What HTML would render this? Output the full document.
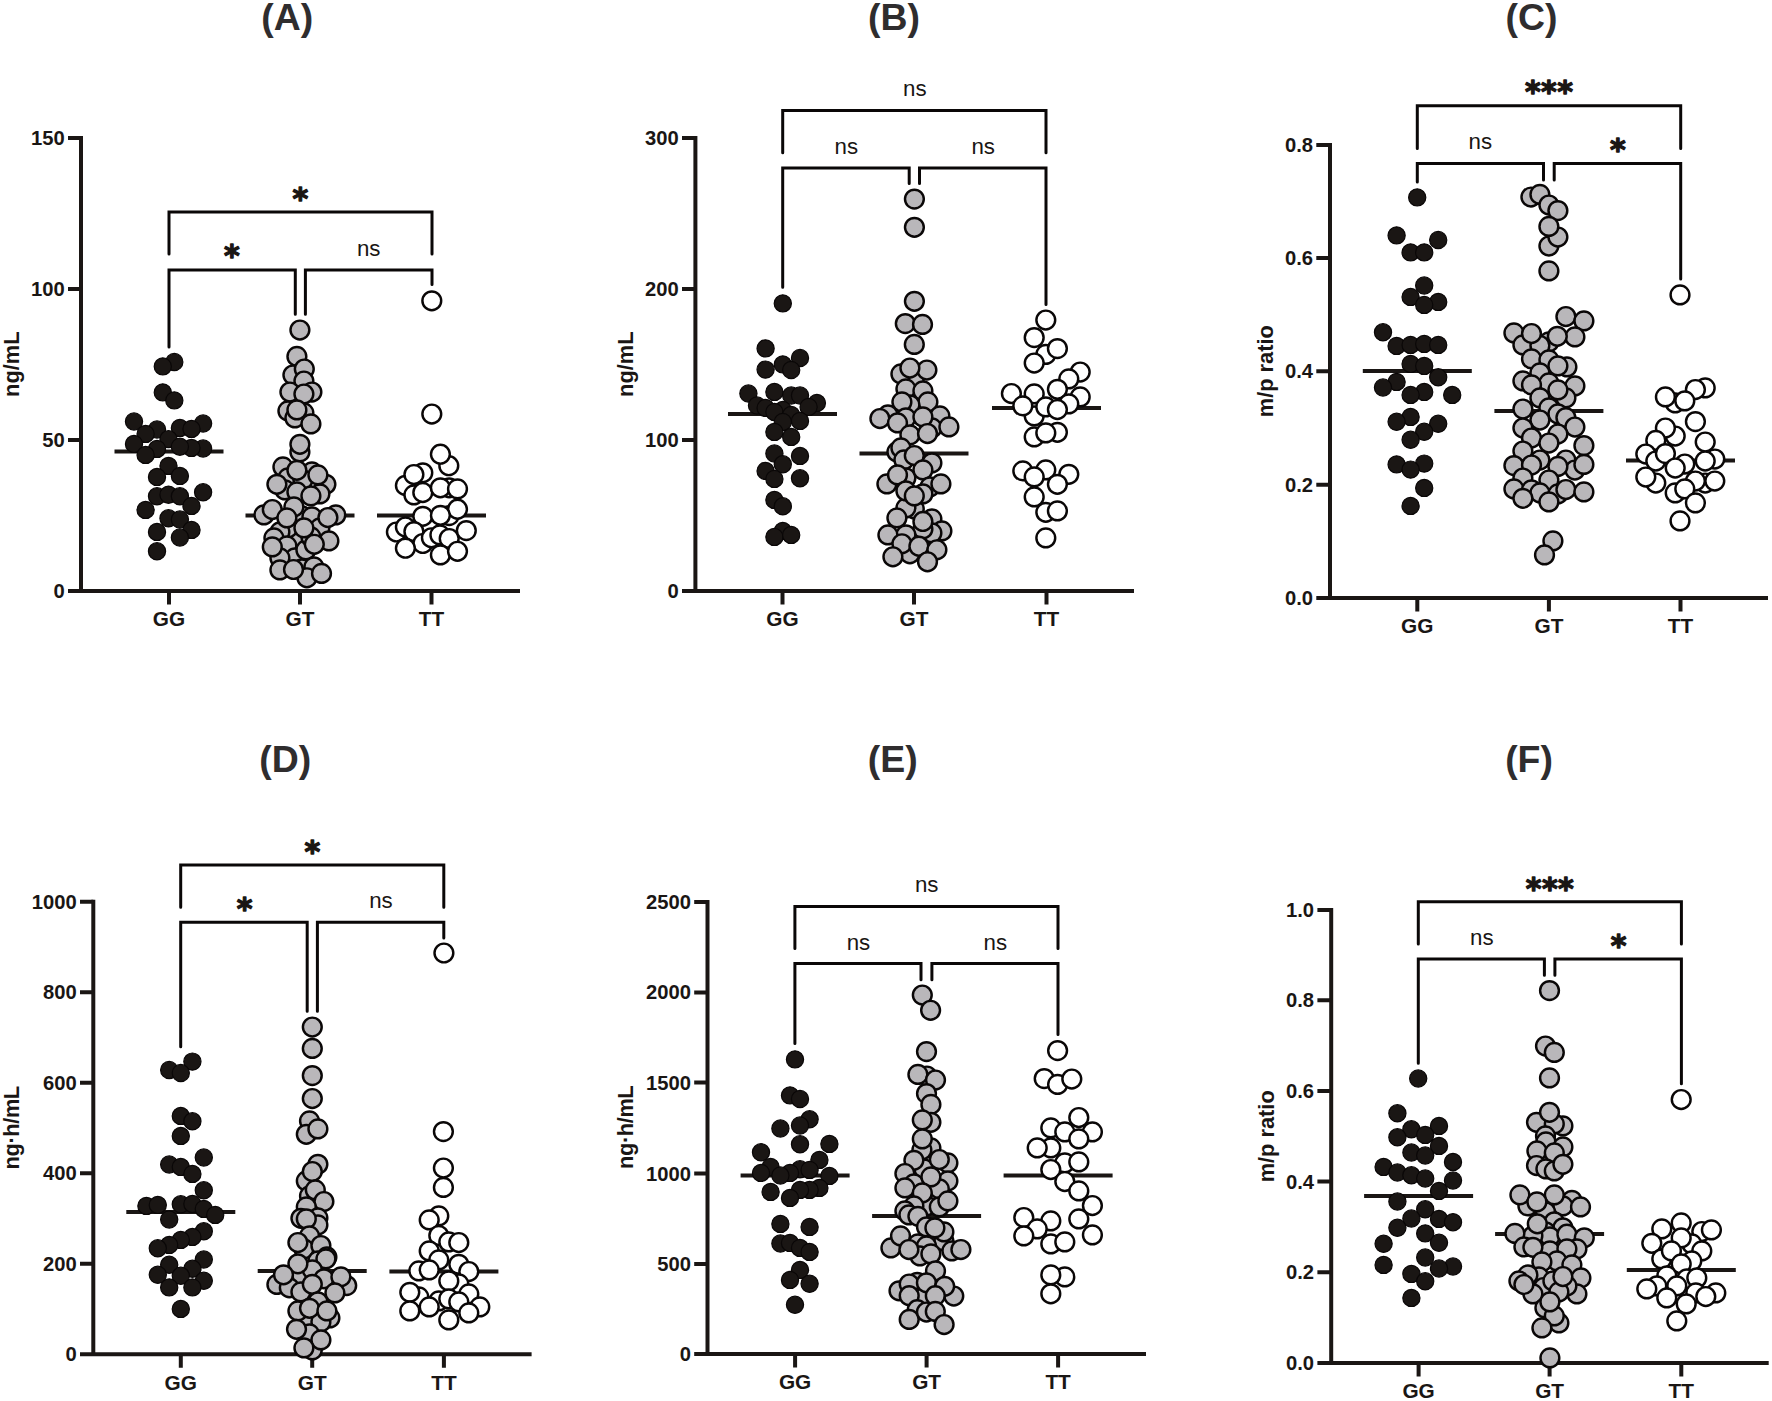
<!DOCTYPE html>
<html lang="en"><head><meta charset="utf-8"><title>Figure: genotype scatter plots (A)-(F)</title>
<style>
html,body{margin:0;padding:0;background:#fff}
svg{display:block}
text{font-family:"Liberation Sans",Arial,Helvetica,sans-serif;fill:#1a1614}
.title{font-size:37.4px;font-weight:bold;text-anchor:middle;fill:#2f2d2e}
.tick{font-size:20.2px;font-weight:bold;text-anchor:end}
.grp{font-size:20.8px;font-weight:bold;text-anchor:middle}
.ylab{font-size:21.8px;font-weight:bold;text-anchor:middle}
.ns{font-size:22.3px;text-anchor:middle}
.ast{font-family:"DejaVu Sans",sans-serif;font-weight:bold;font-size:30px;text-anchor:middle;stroke:#1a1614;stroke-width:1.3px;stroke-linejoin:round;letter-spacing:0.5px}
.ax{fill:none;stroke:#1a1614;stroke-width:4.0px}
.br{fill:none;stroke:#0a0707;stroke-width:3.0px;stroke-linecap:round;stroke-linejoin:miter}
.med{fill:none;stroke:#1a1614;stroke-width:4.0px}
.k circle{fill:#1a1614;stroke:#0a0707;stroke-width:1.2px}
.g circle{fill:#b9b7ba;stroke:#0a0707;stroke-width:2.45px}
.w circle{fill:#fff;stroke:#0a0707;stroke-width:2.45px}
</style></head><body>
<svg width="1772" height="1401" viewBox="0 0 1772 1401" role="img" aria-label="Six scatter plots (A)-(F) comparing GG, GT and TT genotype groups">
<rect width="1772" height="1401" fill="#fff"/>
<g id="panelA">
<text class="title" x="287.3" y="29.9">(A)</text>
<text class="ylab" transform="translate(18.8 364.2) rotate(-90)">ng/mL</text>
<path class="br" d="M169 254V212H432V254"/>
<path class="br" d="M169 347V270H295.3V314.2"/>
<path class="br" d="M305.4 314.2V270H432V284.4"/>
<text class="ast" x="300.6" y="209">*</text>
<text class="ast" x="232.2" y="266.2">*</text>
<text class="ns" x="368.7" y="255.6">ns</text>
<path class="ax" d="M81 136V593M68 591H520"/>
<path class="ax" d="M68 138H81M68 289H81M68 440H81M169 591V604.5M300 591V604.5M431.5 591V604.5"/>
<path class="med" d="M114.5 451.5H223.5"/>
<path class="med" d="M245.5 515.5H354.5"/>
<path class="med" d="M377 515.6H486"/>
<g class="k">
<circle cx="174.3" cy="362" r="8.6"/><circle cx="162.8" cy="366.4" r="8.6"/><circle cx="162.8" cy="392.4" r="8.6"/><circle cx="174.3" cy="400.4" r="8.6"/><circle cx="134" cy="421.5" r="8.6"/><circle cx="203.1" cy="423.5" r="8.6"/><circle cx="157" cy="429.5" r="8.6"/><circle cx="179.9" cy="427.9" r="8.6"/><circle cx="191.5" cy="428.9" r="8.6"/><circle cx="145.6" cy="433.9" r="8.6"/><circle cx="168.5" cy="439.1" r="8.6"/><circle cx="134" cy="443.9" r="8.6"/><circle cx="203.1" cy="448.5" r="8.6"/><circle cx="191.5" cy="447.9" r="8.6"/><circle cx="179.9" cy="446.7" r="8.6"/><circle cx="157" cy="448.9" r="8.6"/><circle cx="145.6" cy="454.9" r="8.6"/><circle cx="168.5" cy="465.9" r="8.6"/><circle cx="157" cy="476.9" r="8.6"/><circle cx="179.9" cy="475.9" r="8.6"/><circle cx="203.1" cy="492.3" r="8.6"/><circle cx="157" cy="496.3" r="8.6"/><circle cx="168.5" cy="494.7" r="8.6"/><circle cx="179.9" cy="496.3" r="8.6"/><circle cx="191.5" cy="505.9" r="8.6"/><circle cx="145.6" cy="509.9" r="8.6"/><circle cx="168.5" cy="518.3" r="8.6"/><circle cx="179.9" cy="519.5" r="8.6"/><circle cx="191.5" cy="529.9" r="8.6"/><circle cx="157" cy="531.9" r="8.6"/><circle cx="179.9" cy="537.5" r="8.6"/><circle cx="157" cy="551.3" r="8.6"/>
</g>
<g class="g">
<circle cx="299.9" cy="330" r="9.4"/><circle cx="296.9" cy="356.4" r="9.4"/><circle cx="292.9" cy="375" r="9.4"/><circle cx="304.3" cy="369" r="9.4"/><circle cx="303.9" cy="381" r="9.4"/><circle cx="289.9" cy="392" r="9.4"/><circle cx="311.9" cy="392" r="9.4"/><circle cx="303.9" cy="394" r="9.4"/><circle cx="287.9" cy="410.9" r="9.4"/><circle cx="303.9" cy="412.9" r="9.4"/><circle cx="294.9" cy="417.9" r="9.4"/><circle cx="296.9" cy="409.9" r="9.4"/><circle cx="310.9" cy="423.9" r="9.4"/><circle cx="299.9" cy="451.9" r="9.4"/><circle cx="299.9" cy="444.3" r="9.4"/><circle cx="296.9" cy="537.9" r="9.4"/><circle cx="282.9" cy="466.9" r="9.4"/><circle cx="287.9" cy="477.9" r="9.4"/><circle cx="311.9" cy="471.9" r="9.4"/><circle cx="302.9" cy="479.9" r="9.4"/><circle cx="325.9" cy="484.3" r="9.4"/><circle cx="284.9" cy="489.9" r="9.4"/><circle cx="296.9" cy="491.9" r="9.4"/><circle cx="319.9" cy="493.9" r="9.4"/><circle cx="301.9" cy="515.9" r="9.4"/><circle cx="311.9" cy="516.9" r="9.4"/><circle cx="263.9" cy="514.9" r="9.4"/><circle cx="335.8" cy="514.9" r="9.4"/><circle cx="293.9" cy="506.9" r="9.4"/><circle cx="287.9" cy="527.9" r="9.4"/><circle cx="279.9" cy="531.9" r="9.4"/><circle cx="319.9" cy="527.9" r="9.4"/><circle cx="273.9" cy="537.9" r="9.4"/><circle cx="286.9" cy="545.9" r="9.4"/><circle cx="294.9" cy="557.9" r="9.4"/><circle cx="305.9" cy="549.9" r="9.4"/><circle cx="310.9" cy="536.9" r="9.4"/><circle cx="328.9" cy="540.9" r="9.4"/><circle cx="279.9" cy="557.9" r="9.4"/><circle cx="301.9" cy="568.9" r="9.4"/><circle cx="313.9" cy="566.9" r="9.4"/><circle cx="306.9" cy="577.8" r="9.4"/><circle cx="296.9" cy="470.3" r="9.4"/><circle cx="317.9" cy="474.9" r="9.4"/><circle cx="276.9" cy="484.3" r="9.4"/><circle cx="310.9" cy="495.9" r="9.4"/><circle cx="272.3" cy="509.5" r="9.4"/><circle cx="286.9" cy="517.9" r="9.4"/><circle cx="303.9" cy="527.9" r="9.4"/><circle cx="327.9" cy="517.5" r="9.4"/><circle cx="314.3" cy="544.3" r="9.4"/><circle cx="272.3" cy="546.9" r="9.4"/><circle cx="279.9" cy="569.9" r="9.4"/><circle cx="293.5" cy="569.5" r="9.4"/><circle cx="321.5" cy="573.4" r="9.4"/>
</g>
<g class="w">
<circle cx="431.8" cy="300.8" r="9.4"/><circle cx="431.8" cy="414" r="9.4"/><circle cx="448.8" cy="465.7" r="9.4"/><circle cx="440.4" cy="454.2" r="9.4"/><circle cx="422.8" cy="472.8" r="9.4"/><circle cx="405.4" cy="485.4" r="9.4"/><circle cx="413.9" cy="474.5" r="9.4"/><circle cx="413.9" cy="494.9" r="9.4"/><circle cx="422.8" cy="492.5" r="9.4"/><circle cx="449.2" cy="487.8" r="9.4"/><circle cx="440.4" cy="487.8" r="9.4"/><circle cx="457.5" cy="488.9" r="9.4"/><circle cx="449.2" cy="515.6" r="9.4"/><circle cx="457.5" cy="509.2" r="9.4"/><circle cx="422.8" cy="516.3" r="9.4"/><circle cx="440.4" cy="515.3" r="9.4"/><circle cx="396.4" cy="532" r="9.4"/><circle cx="405.4" cy="527" r="9.4"/><circle cx="413.9" cy="531.6" r="9.4"/><circle cx="422.8" cy="543.5" r="9.4"/><circle cx="431.4" cy="537.8" r="9.4"/><circle cx="439.9" cy="534.9" r="9.4"/><circle cx="449.2" cy="538.5" r="9.4"/><circle cx="466.3" cy="530.6" r="9.4"/><circle cx="405.4" cy="548.2" r="9.4"/><circle cx="440.4" cy="554.9" r="9.4"/><circle cx="457.5" cy="551.3" r="9.4"/>
</g>
<text class="tick" x="64.7" y="145">150</text>
<text class="tick" x="64.7" y="296">100</text>
<text class="tick" x="64.7" y="447">50</text>
<text class="tick" x="64.7" y="598">0</text>
<text class="grp" x="169" y="626.3">GG</text>
<text class="grp" x="300" y="626.3">GT</text>
<text class="grp" x="431.5" y="626.3">TT</text>
</g>
<g id="panelB">
<text class="title" x="894" y="29.9">(B)</text>
<text class="ylab" transform="translate(632.8 364.2) rotate(-90)">ng/mL</text>
<path class="br" d="M782.7 152.8V110.6H1046V152.8"/>
<path class="br" d="M782.7 287.3V167.9H909.2V183.6"/>
<path class="br" d="M919.5 183.6V167.9H1046V304.5"/>
<text class="ns" x="914.8" y="96.2">ns</text>
<text class="ns" x="846.3" y="153.5">ns</text>
<text class="ns" x="983.2" y="153.5">ns</text>
<path class="ax" d="M695.4 136V593M682 591H1134"/>
<path class="ax" d="M682 138H695.4M682 289H695.4M682 440H695.4M782.5 591V604.5M914 591V604.5M1046.5 591V604.5"/>
<path class="med" d="M728 414H837"/>
<path class="med" d="M859.5 453.5H968.5"/>
<path class="med" d="M992 408H1101"/>
<g class="k">
<circle cx="782.8" cy="303.4" r="8.6"/><circle cx="765.6" cy="348.4" r="8.6"/><circle cx="800" cy="358" r="8.6"/><circle cx="782.8" cy="364.4" r="8.6"/><circle cx="765.6" cy="369.6" r="8.6"/><circle cx="791.2" cy="370" r="8.6"/><circle cx="748.4" cy="393.5" r="8.6"/><circle cx="774.4" cy="391.9" r="8.6"/><circle cx="791.2" cy="395.5" r="8.6"/><circle cx="800" cy="395.5" r="8.6"/><circle cx="816.9" cy="402.9" r="8.6"/><circle cx="757" cy="405.5" r="8.6"/><circle cx="765.6" cy="407.9" r="8.6"/><circle cx="782.8" cy="409.9" r="8.6"/><circle cx="808.6" cy="406.9" r="8.6"/><circle cx="774.4" cy="411.9" r="8.6"/><circle cx="791.2" cy="414.9" r="8.6"/><circle cx="800" cy="420.9" r="8.6"/><circle cx="782.8" cy="421.9" r="8.6"/><circle cx="774.4" cy="431.9" r="8.6"/><circle cx="791.2" cy="436.9" r="8.6"/><circle cx="774.4" cy="453.5" r="8.6"/><circle cx="800" cy="455.9" r="8.6"/><circle cx="782.8" cy="464.3" r="8.6"/><circle cx="765.6" cy="470.9" r="8.6"/><circle cx="774.4" cy="478.9" r="8.6"/><circle cx="800" cy="478.3" r="8.6"/><circle cx="774.4" cy="499.9" r="8.6"/><circle cx="782.8" cy="506.3" r="8.6"/><circle cx="782.8" cy="530.9" r="8.6"/><circle cx="774.4" cy="536.9" r="8.6"/><circle cx="791.2" cy="534.9" r="8.6"/>
</g>
<g class="g">
<circle cx="914.4" cy="199.1" r="9.4"/><circle cx="914.4" cy="227.3" r="9.4"/><circle cx="914.4" cy="301.3" r="9.4"/><circle cx="905.3" cy="323.6" r="9.4"/><circle cx="922.5" cy="324.4" r="9.4"/><circle cx="914.3" cy="344.4" r="9.4"/><circle cx="914.3" cy="381.9" r="9.4"/><circle cx="900.9" cy="373.9" r="9.4"/><circle cx="926.9" cy="370" r="9.4"/><circle cx="909.9" cy="368" r="9.4"/><circle cx="905.9" cy="388.9" r="9.4"/><circle cx="922.9" cy="390.9" r="9.4"/><circle cx="927.9" cy="401.9" r="9.4"/><circle cx="909.9" cy="404.9" r="9.4"/><circle cx="901.9" cy="401.9" r="9.4"/><circle cx="887.9" cy="414.9" r="9.4"/><circle cx="879.9" cy="418.5" r="9.4"/><circle cx="905.9" cy="417.9" r="9.4"/><circle cx="939.9" cy="415.9" r="9.4"/><circle cx="931.9" cy="427.9" r="9.4"/><circle cx="922.9" cy="416.9" r="9.4"/><circle cx="897.5" cy="422.9" r="9.4"/><circle cx="948.9" cy="426.9" r="9.4"/><circle cx="909.9" cy="434.9" r="9.4"/><circle cx="927.5" cy="433.5" r="9.4"/><circle cx="896.9" cy="451.9" r="9.4"/><circle cx="900.9" cy="447.9" r="9.4"/><circle cx="903.9" cy="459.9" r="9.4"/><circle cx="914.3" cy="455.5" r="9.4"/><circle cx="931.9" cy="462.9" r="9.4"/><circle cx="905.9" cy="477.9" r="9.4"/><circle cx="922.9" cy="469.9" r="9.4"/><circle cx="886.9" cy="483.9" r="9.4"/><circle cx="897.5" cy="474.9" r="9.4"/><circle cx="929.9" cy="486.9" r="9.4"/><circle cx="940.9" cy="483.9" r="9.4"/><circle cx="914.3" cy="508.9" r="9.4"/><circle cx="905.9" cy="507.9" r="9.4"/><circle cx="922.9" cy="493.9" r="9.4"/><circle cx="905.9" cy="490.9" r="9.4"/><circle cx="914.3" cy="495.9" r="9.4"/><circle cx="931.9" cy="518.9" r="9.4"/><circle cx="896.9" cy="517.9" r="9.4"/><circle cx="941.9" cy="530.9" r="9.4"/><circle cx="931.9" cy="532.9" r="9.4"/><circle cx="922.9" cy="528.9" r="9.4"/><circle cx="922.9" cy="521.5" r="9.4"/><circle cx="905.9" cy="534.9" r="9.4"/><circle cx="887.9" cy="534.9" r="9.4"/><circle cx="909.9" cy="553.8" r="9.4"/><circle cx="901.9" cy="543.8" r="9.4"/><circle cx="918.9" cy="546.2" r="9.4"/><circle cx="936.9" cy="549.8" r="9.4"/><circle cx="892.9" cy="556.8" r="9.4"/><circle cx="927.5" cy="561.8" r="9.4"/>
</g>
<g class="w">
<circle cx="1045.8" cy="320" r="9.4"/><circle cx="1034.2" cy="337.6" r="9.4"/><circle cx="1045.8" cy="354.4" r="9.4"/><circle cx="1057.4" cy="348.6" r="9.4"/><circle cx="1034.2" cy="363" r="9.4"/><circle cx="1080.2" cy="372" r="9.4"/><circle cx="1068.8" cy="378.9" r="9.4"/><circle cx="1057.4" cy="389.3" r="9.4"/><circle cx="1080.2" cy="396.9" r="9.4"/><circle cx="1011.4" cy="393.5" r="9.4"/><circle cx="1034.2" cy="393.9" r="9.4"/><circle cx="1068.8" cy="403.9" r="9.4"/><circle cx="1034.2" cy="415.9" r="9.4"/><circle cx="1022.8" cy="405.9" r="9.4"/><circle cx="1045.8" cy="406.9" r="9.4"/><circle cx="1057.4" cy="409.5" r="9.4"/><circle cx="1034.2" cy="436.9" r="9.4"/><circle cx="1057.4" cy="432.3" r="9.4"/><circle cx="1045.8" cy="432.9" r="9.4"/><circle cx="1022.8" cy="470.9" r="9.4"/><circle cx="1045.8" cy="469.9" r="9.4"/><circle cx="1034.2" cy="476.9" r="9.4"/><circle cx="1068.8" cy="474.3" r="9.4"/><circle cx="1057.4" cy="484.3" r="9.4"/><circle cx="1034.2" cy="496.9" r="9.4"/><circle cx="1045.8" cy="512.3" r="9.4"/><circle cx="1057.4" cy="510.9" r="9.4"/><circle cx="1045.8" cy="537.9" r="9.4"/>
</g>
<text class="tick" x="678.7" y="145">300</text>
<text class="tick" x="678.7" y="296">200</text>
<text class="tick" x="678.7" y="447">100</text>
<text class="tick" x="678.7" y="598">0</text>
<text class="grp" x="782.5" y="626.3">GG</text>
<text class="grp" x="914" y="626.3">GT</text>
<text class="grp" x="1046.5" y="626.3">TT</text>
</g>
<g id="panelC">
<text class="title" x="1531.5" y="29.9">(C)</text>
<text class="ylab" transform="translate(1273 371.2) rotate(-90)">m/p ratio</text>
<path class="br" d="M1417.3 148.5V105.8H1680.7V148.5"/>
<path class="br" d="M1417.3 182V163.4H1543.5V180"/>
<path class="br" d="M1554.2 180V163.4H1680.7V279"/>
<text class="ast" x="1549.2" y="102">***</text>
<text class="ns" x="1480.3" y="149.4">ns</text>
<text class="ast" x="1618" y="159.5">*</text>
<path class="ax" d="M1330 143V600M1316.3 598H1768"/>
<path class="ax" d="M1316.3 145H1330M1316.3 258H1330M1316.3 371.3H1330M1316.3 484.7H1330M1417.3 598V611.5M1548.9 598V611.5M1680.5 598V611.5"/>
<path class="med" d="M1362.8 371H1471.8"/>
<path class="med" d="M1494.4 411H1603.4"/>
<path class="med" d="M1626 460.5H1735"/>
<g class="k">
<circle cx="1417.2" cy="197.4" r="8.6"/><circle cx="1396.6" cy="235.4" r="8.6"/><circle cx="1438.2" cy="240" r="8.6"/><circle cx="1410.6" cy="252.4" r="8.6"/><circle cx="1424.2" cy="252.4" r="8.6"/><circle cx="1424.2" cy="285.5" r="8.6"/><circle cx="1410.6" cy="296.9" r="8.6"/><circle cx="1438.2" cy="301.9" r="8.6"/><circle cx="1424.2" cy="304.9" r="8.6"/><circle cx="1383" cy="332.3" r="8.6"/><circle cx="1396.6" cy="345.9" r="8.6"/><circle cx="1410.6" cy="344.9" r="8.6"/><circle cx="1424.2" cy="343.9" r="8.6"/><circle cx="1438.2" cy="344.9" r="8.6"/><circle cx="1410.6" cy="363.9" r="8.6"/><circle cx="1424.2" cy="365.9" r="8.6"/><circle cx="1438.2" cy="377.3" r="8.6"/><circle cx="1396.6" cy="381.9" r="8.6"/><circle cx="1383" cy="387.5" r="8.6"/><circle cx="1424.2" cy="391.9" r="8.6"/><circle cx="1410.6" cy="394.9" r="8.6"/><circle cx="1452.2" cy="394.9" r="8.6"/><circle cx="1410.6" cy="416.9" r="8.6"/><circle cx="1396.6" cy="421.8" r="8.6"/><circle cx="1438.2" cy="423.8" r="8.6"/><circle cx="1424.2" cy="431.8" r="8.6"/><circle cx="1410.6" cy="439.8" r="8.6"/><circle cx="1396.6" cy="464.4" r="8.6"/><circle cx="1424.2" cy="463.6" r="8.6"/><circle cx="1410.6" cy="469.6" r="8.6"/><circle cx="1424.2" cy="487.9" r="8.6"/><circle cx="1410.6" cy="505.9" r="8.6"/>
</g>
<g class="g">
<circle cx="1530.9" cy="197" r="9.4"/><circle cx="1539.9" cy="194.4" r="9.4"/><circle cx="1548.9" cy="205" r="9.4"/><circle cx="1557.9" cy="210.6" r="9.4"/><circle cx="1548.9" cy="246" r="9.4"/><circle cx="1557.9" cy="237" r="9.4"/><circle cx="1548.9" cy="226.4" r="9.4"/><circle cx="1548.9" cy="270.9" r="9.4"/><circle cx="1565.9" cy="316.5" r="9.4"/><circle cx="1583.9" cy="320.9" r="9.4"/><circle cx="1513.9" cy="332.9" r="9.4"/><circle cx="1522.9" cy="344.9" r="9.4"/><circle cx="1548.9" cy="341.9" r="9.4"/><circle cx="1539.9" cy="345.5" r="9.4"/><circle cx="1531.5" cy="333.5" r="9.4"/><circle cx="1574.9" cy="336.9" r="9.4"/><circle cx="1557.3" cy="336.3" r="9.4"/><circle cx="1531.5" cy="358.9" r="9.4"/><circle cx="1548.9" cy="359.9" r="9.4"/><circle cx="1566.9" cy="366.9" r="9.4"/><circle cx="1557.9" cy="365.9" r="9.4"/><circle cx="1539.9" cy="372.9" r="9.4"/><circle cx="1522.9" cy="380.9" r="9.4"/><circle cx="1548.9" cy="382.9" r="9.4"/><circle cx="1531.5" cy="384.9" r="9.4"/><circle cx="1574.9" cy="385.9" r="9.4"/><circle cx="1565.9" cy="397.9" r="9.4"/><circle cx="1557.9" cy="389.9" r="9.4"/><circle cx="1539.9" cy="397.9" r="9.4"/><circle cx="1548.9" cy="407.9" r="9.4"/><circle cx="1557.9" cy="413.9" r="9.4"/><circle cx="1522.9" cy="409" r="9.4"/><circle cx="1565.9" cy="417.6" r="9.4"/><circle cx="1539.9" cy="420" r="9.4"/><circle cx="1574.9" cy="427" r="9.4"/><circle cx="1522.9" cy="428" r="9.4"/><circle cx="1557.9" cy="434" r="9.4"/><circle cx="1531.5" cy="438" r="9.4"/><circle cx="1548.9" cy="443" r="9.4"/><circle cx="1583.9" cy="445.6" r="9.4"/><circle cx="1522.9" cy="451" r="9.4"/><circle cx="1539.9" cy="460" r="9.4"/><circle cx="1565.9" cy="460" r="9.4"/><circle cx="1513.9" cy="465.6" r="9.4"/><circle cx="1574.9" cy="470" r="9.4"/><circle cx="1531.5" cy="465" r="9.4"/><circle cx="1557.9" cy="466.4" r="9.4"/><circle cx="1583.9" cy="464.4" r="9.4"/><circle cx="1522.9" cy="478" r="9.4"/><circle cx="1548.9" cy="480" r="9.4"/><circle cx="1513.9" cy="488.9" r="9.4"/><circle cx="1531.5" cy="489.9" r="9.4"/><circle cx="1539.9" cy="492.9" r="9.4"/><circle cx="1557.9" cy="493.9" r="9.4"/><circle cx="1565.9" cy="489.5" r="9.4"/><circle cx="1583.9" cy="491.9" r="9.4"/><circle cx="1548.9" cy="501.9" r="9.4"/><circle cx="1522.9" cy="498.3" r="9.4"/><circle cx="1552.9" cy="540.9" r="9.4"/><circle cx="1544.5" cy="554.9" r="9.4"/>
</g>
<g class="w">
<circle cx="1680" cy="294.9" r="9.4"/><circle cx="1705.2" cy="387.9" r="9.4"/><circle cx="1695.4" cy="389.5" r="9.4"/><circle cx="1675.2" cy="402.9" r="9.4"/><circle cx="1665.4" cy="396.9" r="9.4"/><circle cx="1684.8" cy="400.9" r="9.4"/><circle cx="1695.4" cy="421.6" r="9.4"/><circle cx="1675.2" cy="436" r="9.4"/><circle cx="1665.4" cy="428" r="9.4"/><circle cx="1655.8" cy="440.4" r="9.4"/><circle cx="1705.2" cy="442" r="9.4"/><circle cx="1645.8" cy="454" r="9.4"/><circle cx="1655.8" cy="461" r="9.4"/><circle cx="1665.4" cy="453.6" r="9.4"/><circle cx="1684.8" cy="464" r="9.4"/><circle cx="1714.8" cy="459" r="9.4"/><circle cx="1705.2" cy="461" r="9.4"/><circle cx="1675.2" cy="468" r="9.4"/><circle cx="1655.8" cy="483" r="9.4"/><circle cx="1645.8" cy="477" r="9.4"/><circle cx="1705.2" cy="483" r="9.4"/><circle cx="1714.8" cy="481" r="9.4"/><circle cx="1695.4" cy="481" r="9.4"/><circle cx="1675.2" cy="492.9" r="9.4"/><circle cx="1684.8" cy="488.9" r="9.4"/><circle cx="1695.4" cy="502.9" r="9.4"/><circle cx="1680" cy="520.9" r="9.4"/>
</g>
<text class="tick" x="1313" y="152">0.8</text>
<text class="tick" x="1313" y="265">0.6</text>
<text class="tick" x="1313" y="378.3">0.4</text>
<text class="tick" x="1313" y="491.7">0.2</text>
<text class="tick" x="1313" y="605">0.0</text>
<text class="grp" x="1417.3" y="633.3">GG</text>
<text class="grp" x="1548.9" y="633.3">GT</text>
<text class="grp" x="1680.5" y="633.3">TT</text>
</g>
<g id="panelD">
<text class="title" x="285.3" y="771.5">(D)</text>
<text class="ylab" letter-spacing="-0.4" transform="translate(18.8 1127.8) rotate(-90)">ng·h/mL</text>
<path class="br" d="M180.7 907.2V864.9H443.8V907.2"/>
<path class="br" d="M180.7 1046.8V922.3H307.2V1011.2"/>
<path class="br" d="M317.4 1011.2V922.3H443.8V938"/>
<text class="ast" x="312.6" y="861.5">*</text>
<text class="ast" x="244.8" y="919.1">*</text>
<text class="ns" x="381" y="908.4">ns</text>
<path class="ax" d="M93.3 899.8V1356.2M80 1354.2H531.6"/>
<path class="ax" d="M80 901.8H93.3M80 992.3H93.3M80 1082.8H93.3M80 1173.3H93.3M80 1263.8H93.3M180.8 1354.2V1367.7M312.2 1354.2V1367.7M443.9 1354.2V1367.7"/>
<path class="med" d="M126.3 1212H235.3"/>
<path class="med" d="M257.7 1271H366.7"/>
<path class="med" d="M389.4 1271.5H498.4"/>
<g class="k">
<circle cx="192.4" cy="1061.6" r="8.6"/><circle cx="169.2" cy="1070" r="8.6"/><circle cx="180.8" cy="1073" r="8.6"/><circle cx="180.8" cy="1115.9" r="8.6"/><circle cx="192.4" cy="1121.3" r="8.6"/><circle cx="180.8" cy="1135.9" r="8.6"/><circle cx="203.8" cy="1157.5" r="8.6"/><circle cx="169.2" cy="1164.5" r="8.6"/><circle cx="180.8" cy="1166.9" r="8.6"/><circle cx="192.4" cy="1173.9" r="8.6"/><circle cx="203.8" cy="1190.3" r="8.6"/><circle cx="146.4" cy="1205.9" r="8.6"/><circle cx="157.8" cy="1204.9" r="8.6"/><circle cx="180.8" cy="1204.3" r="8.6"/><circle cx="192.4" cy="1203.9" r="8.6"/><circle cx="203.8" cy="1208.9" r="8.6"/><circle cx="215.2" cy="1214.9" r="8.6"/><circle cx="169.2" cy="1219.5" r="8.6"/><circle cx="203.8" cy="1231.3" r="8.6"/><circle cx="192.4" cy="1236.9" r="8.6"/><circle cx="180.8" cy="1239.9" r="8.6"/><circle cx="169.2" cy="1244.9" r="8.6"/><circle cx="157.8" cy="1248.3" r="8.6"/><circle cx="203.8" cy="1259.5" r="8.6"/><circle cx="169.2" cy="1264.8" r="8.6"/><circle cx="192.4" cy="1268.8" r="8.6"/><circle cx="157.8" cy="1274.8" r="8.6"/><circle cx="180.8" cy="1275.8" r="8.6"/><circle cx="203.8" cy="1280.8" r="8.6"/><circle cx="169.2" cy="1287.4" r="8.6"/><circle cx="192.4" cy="1287.4" r="8.6"/><circle cx="180.8" cy="1308.9" r="8.6"/>
</g>
<g class="g">
<circle cx="301.9" cy="1275.5" r="9.4"/><circle cx="310.9" cy="1296.9" r="9.4"/><circle cx="308.9" cy="1320.9" r="9.4"/><circle cx="312.3" cy="1027" r="9.4"/><circle cx="312.3" cy="1048.4" r="9.4"/><circle cx="312.3" cy="1075.6" r="9.4"/><circle cx="312.3" cy="1098.5" r="9.4"/><circle cx="309.5" cy="1120.9" r="9.4"/><circle cx="306.3" cy="1134.3" r="9.4"/><circle cx="317.9" cy="1128.9" r="9.4"/><circle cx="317.9" cy="1164.3" r="9.4"/><circle cx="306.3" cy="1180.9" r="9.4"/><circle cx="312.3" cy="1171.5" r="9.4"/><circle cx="309.5" cy="1195.9" r="9.4"/><circle cx="315.3" cy="1189.9" r="9.4"/><circle cx="323.9" cy="1201.5" r="9.4"/><circle cx="306.3" cy="1206.9" r="9.4"/><circle cx="317.9" cy="1217.9" r="9.4"/><circle cx="300.9" cy="1218.3" r="9.4"/><circle cx="317.9" cy="1224.9" r="9.4"/><circle cx="306.3" cy="1218.9" r="9.4"/><circle cx="309.5" cy="1235.9" r="9.4"/><circle cx="303.9" cy="1248.9" r="9.4"/><circle cx="297.9" cy="1242.5" r="9.4"/><circle cx="320.9" cy="1245.5" r="9.4"/><circle cx="326.9" cy="1256.9" r="9.4"/><circle cx="317.9" cy="1260.8" r="9.4"/><circle cx="325.9" cy="1258.9" r="9.4"/><circle cx="312.3" cy="1269.8" r="9.4"/><circle cx="297.9" cy="1263.8" r="9.4"/><circle cx="276.9" cy="1284.4" r="9.4"/><circle cx="289.3" cy="1287.8" r="9.4"/><circle cx="323.9" cy="1278.8" r="9.4"/><circle cx="346.7" cy="1285.6" r="9.4"/><circle cx="283.5" cy="1274.8" r="9.4"/><circle cx="340.9" cy="1276.8" r="9.4"/><circle cx="300.9" cy="1291.9" r="9.4"/><circle cx="334.9" cy="1292.9" r="9.4"/><circle cx="312.3" cy="1284.3" r="9.4"/><circle cx="317.9" cy="1301.9" r="9.4"/><circle cx="297.9" cy="1310.9" r="9.4"/><circle cx="329.9" cy="1317.9" r="9.4"/><circle cx="320.9" cy="1321.9" r="9.4"/><circle cx="309.5" cy="1308.3" r="9.4"/><circle cx="326.9" cy="1310.9" r="9.4"/><circle cx="309.5" cy="1333.9" r="9.4"/><circle cx="296.5" cy="1329.3" r="9.4"/><circle cx="312.3" cy="1349.9" r="9.4"/><circle cx="320.9" cy="1339.9" r="9.4"/><circle cx="303.9" cy="1347.9" r="9.4"/>
</g>
<g class="w">
<circle cx="443.9" cy="953" r="9.4"/><circle cx="443.4" cy="1131.6" r="9.4"/><circle cx="443.4" cy="1168" r="9.4"/><circle cx="443.4" cy="1187.4" r="9.4"/><circle cx="438.8" cy="1215.9" r="9.4"/><circle cx="429.2" cy="1219.9" r="9.4"/><circle cx="438.8" cy="1235.5" r="9.4"/><circle cx="448.8" cy="1241.9" r="9.4"/><circle cx="458.8" cy="1242.5" r="9.4"/><circle cx="429.2" cy="1250.9" r="9.4"/><circle cx="438.8" cy="1259.9" r="9.4"/><circle cx="458.8" cy="1264.3" r="9.4"/><circle cx="468.8" cy="1271.5" r="9.4"/><circle cx="418.8" cy="1270.9" r="9.4"/><circle cx="429.2" cy="1269.9" r="9.4"/><circle cx="458.8" cy="1283.9" r="9.4"/><circle cx="448.8" cy="1280.9" r="9.4"/><circle cx="468.8" cy="1293.9" r="9.4"/><circle cx="418.8" cy="1296.9" r="9.4"/><circle cx="409.8" cy="1292.3" r="9.4"/><circle cx="438.8" cy="1300.9" r="9.4"/><circle cx="429.2" cy="1306.9" r="9.4"/><circle cx="479.8" cy="1306.9" r="9.4"/><circle cx="448.8" cy="1298.9" r="9.4"/><circle cx="458.8" cy="1301.9" r="9.4"/><circle cx="409.8" cy="1310.9" r="9.4"/><circle cx="468.8" cy="1312.9" r="9.4"/><circle cx="448.8" cy="1319.9" r="9.4"/>
</g>
<text class="tick" x="76.7" y="908.8">1000</text>
<text class="tick" x="76.7" y="999.3">800</text>
<text class="tick" x="76.7" y="1089.8">600</text>
<text class="tick" x="76.7" y="1180.3">400</text>
<text class="tick" x="76.7" y="1270.8">200</text>
<text class="tick" x="76.7" y="1361.2">0</text>
<text class="grp" x="180.8" y="1389.5">GG</text>
<text class="grp" x="312.2" y="1389.5">GT</text>
<text class="grp" x="443.9" y="1389.5">TT</text>
</g>
<g id="panelE">
<text class="title" x="892.7" y="771.5">(E)</text>
<text class="ylab" letter-spacing="-0.4" transform="translate(632.6 1127.3) rotate(-90)">ng·h/mL</text>
<path class="br" d="M794.9 948.5V906.4H1058V948.5"/>
<path class="br" d="M794.9 1043.6V963.6H921V979.7"/>
<path class="br" d="M931.9 979.7V963.6H1058V1034.6"/>
<text class="ns" x="926.7" y="892">ns</text>
<text class="ns" x="858.5" y="949.6">ns</text>
<text class="ns" x="995.3" y="949.6">ns</text>
<path class="ax" d="M707.5 900V1356M694.2 1354H1146"/>
<path class="ax" d="M694.2 902H707.5M694.2 992.4H707.5M694.2 1082.6H707.5M694.2 1173.5H707.5M694.2 1264.1H707.5M795.1 1354V1367.5M926.6 1354V1367.5M1058.1 1354V1367.5"/>
<path class="med" d="M740.6 1175.5H849.6"/>
<path class="med" d="M872.1 1216H981.1"/>
<path class="med" d="M1003.6 1175.5H1112.6"/>
<g class="k">
<circle cx="795" cy="1059.4" r="8.6"/><circle cx="790" cy="1095.4" r="8.6"/><circle cx="800" cy="1099" r="8.6"/><circle cx="809.6" cy="1119.3" r="8.6"/><circle cx="800" cy="1125.5" r="8.6"/><circle cx="780.4" cy="1128.5" r="8.6"/><circle cx="800" cy="1144.3" r="8.6"/><circle cx="829.4" cy="1143.9" r="8.6"/><circle cx="761" cy="1152.3" r="8.6"/><circle cx="819.4" cy="1159.9" r="8.6"/><circle cx="770.6" cy="1166.9" r="8.6"/><circle cx="800" cy="1169.3" r="8.6"/><circle cx="809.6" cy="1169.9" r="8.6"/><circle cx="790" cy="1172.9" r="8.6"/><circle cx="761" cy="1172.9" r="8.6"/><circle cx="780.4" cy="1175.5" r="8.6"/><circle cx="829.4" cy="1175.9" r="8.6"/><circle cx="819.4" cy="1187.9" r="8.6"/><circle cx="809.6" cy="1189.9" r="8.6"/><circle cx="800" cy="1189.9" r="8.6"/><circle cx="770.6" cy="1191.9" r="8.6"/><circle cx="790" cy="1197.9" r="8.6"/><circle cx="780.4" cy="1223.9" r="8.6"/><circle cx="809.6" cy="1226.9" r="8.6"/><circle cx="780.4" cy="1243.5" r="8.6"/><circle cx="790" cy="1242.9" r="8.6"/><circle cx="800" cy="1247.9" r="8.6"/><circle cx="809.6" cy="1251.9" r="8.6"/><circle cx="800" cy="1269.9" r="8.6"/><circle cx="790" cy="1279.9" r="8.6"/><circle cx="809.6" cy="1283.8" r="8.6"/><circle cx="795" cy="1304.8" r="8.6"/>
</g>
<g class="g">
<circle cx="922.3" cy="995" r="9.4"/><circle cx="930.6" cy="1010.3" r="9.4"/><circle cx="923.9" cy="1168.9" r="9.4"/><circle cx="926.5" cy="1205.9" r="9.4"/><circle cx="930.9" cy="1238.9" r="9.4"/><circle cx="926.5" cy="1051.6" r="9.4"/><circle cx="926.9" cy="1076" r="9.4"/><circle cx="917.9" cy="1074.4" r="9.4"/><circle cx="935.5" cy="1080" r="9.4"/><circle cx="926.5" cy="1093.6" r="9.4"/><circle cx="930.9" cy="1104.4" r="9.4"/><circle cx="930.9" cy="1122.3" r="9.4"/><circle cx="922.3" cy="1119.9" r="9.4"/><circle cx="930.9" cy="1147.9" r="9.4"/><circle cx="921.9" cy="1149.9" r="9.4"/><circle cx="922.3" cy="1138.9" r="9.4"/><circle cx="947.9" cy="1162.9" r="9.4"/><circle cx="913.9" cy="1160.3" r="9.4"/><circle cx="939.3" cy="1159.5" r="9.4"/><circle cx="904.9" cy="1173.5" r="9.4"/><circle cx="947.9" cy="1180.9" r="9.4"/><circle cx="913.9" cy="1183.9" r="9.4"/><circle cx="939.3" cy="1188.9" r="9.4"/><circle cx="930.9" cy="1176.9" r="9.4"/><circle cx="904.9" cy="1187.9" r="9.4"/><circle cx="922.3" cy="1192.9" r="9.4"/><circle cx="939.3" cy="1206.9" r="9.4"/><circle cx="913.9" cy="1205.9" r="9.4"/><circle cx="904.9" cy="1210.9" r="9.4"/><circle cx="908.9" cy="1214.9" r="9.4"/><circle cx="947.9" cy="1200.9" r="9.4"/><circle cx="917.9" cy="1216.3" r="9.4"/><circle cx="926.5" cy="1226.9" r="9.4"/><circle cx="943.9" cy="1240.9" r="9.4"/><circle cx="943.9" cy="1231.9" r="9.4"/><circle cx="934.9" cy="1227.9" r="9.4"/><circle cx="890.9" cy="1247.9" r="9.4"/><circle cx="900.5" cy="1235.9" r="9.4"/><circle cx="917.9" cy="1243.9" r="9.4"/><circle cx="926.5" cy="1245.9" r="9.4"/><circle cx="951.9" cy="1250.9" r="9.4"/><circle cx="919.9" cy="1255.9" r="9.4"/><circle cx="908.9" cy="1249.5" r="9.4"/><circle cx="960.9" cy="1249.5" r="9.4"/><circle cx="930.9" cy="1253.9" r="9.4"/><circle cx="935.5" cy="1270.9" r="9.4"/><circle cx="917.2" cy="1282.3" r="9.4"/><circle cx="899" cy="1290.8" r="9.4"/><circle cx="953.8" cy="1296" r="9.4"/><circle cx="924.1" cy="1297.1" r="9.4"/><circle cx="909.2" cy="1284" r="9.4"/><circle cx="926.4" cy="1282.8" r="9.4"/><circle cx="944.7" cy="1286.3" r="9.4"/><circle cx="909.2" cy="1295.7" r="9.4"/><circle cx="935.3" cy="1295.7" r="9.4"/><circle cx="917.2" cy="1309.7" r="9.4"/><circle cx="909.2" cy="1319.4" r="9.4"/><circle cx="926.4" cy="1312" r="9.4"/><circle cx="935.3" cy="1311.4" r="9.4"/><circle cx="944.1" cy="1324.5" r="9.4"/>
</g>
<g class="w">
<circle cx="1057.6" cy="1050.6" r="9.4"/><circle cx="1044.2" cy="1078.6" r="9.4"/><circle cx="1057.6" cy="1084.4" r="9.4"/><circle cx="1071.8" cy="1079" r="9.4"/><circle cx="1078.8" cy="1117.5" r="9.4"/><circle cx="1050.8" cy="1127.9" r="9.4"/><circle cx="1092.4" cy="1131.9" r="9.4"/><circle cx="1064.8" cy="1131.9" r="9.4"/><circle cx="1078.8" cy="1138.9" r="9.4"/><circle cx="1050.8" cy="1147.9" r="9.4"/><circle cx="1037.2" cy="1147.9" r="9.4"/><circle cx="1064.8" cy="1162.9" r="9.4"/><circle cx="1078.8" cy="1161.9" r="9.4"/><circle cx="1050.8" cy="1169.5" r="9.4"/><circle cx="1064.8" cy="1181.5" r="9.4"/><circle cx="1078.8" cy="1190.9" r="9.4"/><circle cx="1092.4" cy="1205.5" r="9.4"/><circle cx="1023.8" cy="1217.5" r="9.4"/><circle cx="1078.8" cy="1218.9" r="9.4"/><circle cx="1050.8" cy="1220.9" r="9.4"/><circle cx="1037.2" cy="1228.9" r="9.4"/><circle cx="1092.4" cy="1234.9" r="9.4"/><circle cx="1023.8" cy="1235.9" r="9.4"/><circle cx="1050.8" cy="1243.9" r="9.4"/><circle cx="1064.8" cy="1241.9" r="9.4"/><circle cx="1064.8" cy="1276.9" r="9.4"/><circle cx="1050.8" cy="1274.9" r="9.4"/><circle cx="1050.8" cy="1293.8" r="9.4"/>
</g>
<text class="tick" x="690.9" y="909">2500</text>
<text class="tick" x="690.9" y="999.4">2000</text>
<text class="tick" x="690.9" y="1089.6">1500</text>
<text class="tick" x="690.9" y="1180.5">1000</text>
<text class="tick" x="690.9" y="1271.1">500</text>
<text class="tick" x="690.9" y="1361">0</text>
<text class="grp" x="795.1" y="1389.3">GG</text>
<text class="grp" x="926.6" y="1389.3">GT</text>
<text class="grp" x="1058.1" y="1389.3">TT</text>
</g>
<g id="panelF">
<text class="title" x="1529" y="771.5">(F)</text>
<text class="ylab" transform="translate(1273.5 1136.3) rotate(-90)">m/p ratio</text>
<path class="br" d="M1418.3 944V901.7H1681.4V944"/>
<path class="br" d="M1418.3 1063.2V959H1544.4V975.3"/>
<path class="br" d="M1554.9 975.3V959H1681.4V1083.7"/>
<text class="ast" x="1550" y="898.6">***</text>
<text class="ns" x="1481.9" y="945.2">ns</text>
<text class="ast" x="1618.8" y="955.9">*</text>
<path class="ax" d="M1331.2 908V1364.9M1317.4 1362.9H1768.7"/>
<path class="ax" d="M1317.4 910H1331.2M1317.4 1000.3H1331.2M1317.4 1090.9H1331.2M1317.4 1181.6H1331.2M1317.4 1272.2H1331.2M1418.6 1362.9V1376.4M1549.6 1362.9V1376.4M1681.3 1362.9V1376.4"/>
<path class="med" d="M1364.1 1196H1473.1"/>
<path class="med" d="M1495.1 1234H1604.1"/>
<path class="med" d="M1626.8 1270H1735.8"/>
<g class="k">
<circle cx="1418.2" cy="1078.5" r="8.6"/><circle cx="1397.4" cy="1113.3" r="8.6"/><circle cx="1439" cy="1125.9" r="8.6"/><circle cx="1411.4" cy="1129.3" r="8.6"/><circle cx="1425.2" cy="1134.9" r="8.6"/><circle cx="1397.4" cy="1137.3" r="8.6"/><circle cx="1439" cy="1145.9" r="8.6"/><circle cx="1411.4" cy="1152.5" r="8.6"/><circle cx="1425.2" cy="1155.5" r="8.6"/><circle cx="1453" cy="1161.9" r="8.6"/><circle cx="1383.6" cy="1166.9" r="8.6"/><circle cx="1397.4" cy="1172.5" r="8.6"/><circle cx="1411.4" cy="1175.3" r="8.6"/><circle cx="1425.2" cy="1178.5" r="8.6"/><circle cx="1453" cy="1180.5" r="8.6"/><circle cx="1439" cy="1190.9" r="8.6"/><circle cx="1397.4" cy="1201.5" r="8.6"/><circle cx="1425.2" cy="1209.3" r="8.6"/><circle cx="1411.4" cy="1218.5" r="8.6"/><circle cx="1439" cy="1218.9" r="8.6"/><circle cx="1453" cy="1222.2" r="8.6"/><circle cx="1397.4" cy="1227.8" r="8.6"/><circle cx="1425.2" cy="1233.4" r="8.6"/><circle cx="1439" cy="1242.8" r="8.6"/><circle cx="1383.6" cy="1243.8" r="8.6"/><circle cx="1425.2" cy="1257.5" r="8.6"/><circle cx="1383.6" cy="1264.9" r="8.6"/><circle cx="1453" cy="1266.5" r="8.6"/><circle cx="1439" cy="1268.5" r="8.6"/><circle cx="1411.4" cy="1273.9" r="8.6"/><circle cx="1425.2" cy="1281.3" r="8.6"/><circle cx="1411.4" cy="1297.9" r="8.6"/>
</g>
<g class="g">
<circle cx="1549.5" cy="990.6" r="9.4"/><circle cx="1545.5" cy="1046" r="9.4"/><circle cx="1554.3" cy="1052.4" r="9.4"/><circle cx="1549.5" cy="1077.9" r="9.4"/><circle cx="1536.5" cy="1122.3" r="9.4"/><circle cx="1562.9" cy="1125.9" r="9.4"/><circle cx="1554.3" cy="1123.9" r="9.4"/><circle cx="1549.5" cy="1112.3" r="9.4"/><circle cx="1545.5" cy="1135.9" r="9.4"/><circle cx="1545.9" cy="1141.9" r="9.4"/><circle cx="1562.9" cy="1146.9" r="9.4"/><circle cx="1536.9" cy="1150.9" r="9.4"/><circle cx="1554.3" cy="1152.9" r="9.4"/><circle cx="1536.5" cy="1165.5" r="9.4"/><circle cx="1545.9" cy="1168.9" r="9.4"/><circle cx="1554.3" cy="1170.9" r="9.4"/><circle cx="1562.9" cy="1164.3" r="9.4"/><circle cx="1527.9" cy="1205.9" r="9.4"/><circle cx="1571.9" cy="1200.3" r="9.4"/><circle cx="1562.9" cy="1205.9" r="9.4"/><circle cx="1545.5" cy="1211.9" r="9.4"/><circle cx="1519.9" cy="1194.9" r="9.4"/><circle cx="1554.3" cy="1194.9" r="9.4"/><circle cx="1536.9" cy="1201.9" r="9.4"/><circle cx="1580.5" cy="1206.9" r="9.4"/><circle cx="1554.3" cy="1221.8" r="9.4"/><circle cx="1562.9" cy="1227.8" r="9.4"/><circle cx="1545.5" cy="1231.8" r="9.4"/><circle cx="1549.9" cy="1236.8" r="9.4"/><circle cx="1532.9" cy="1235.8" r="9.4"/><circle cx="1537.3" cy="1223.8" r="9.4"/><circle cx="1514.9" cy="1233.4" r="9.4"/><circle cx="1566.9" cy="1234.2" r="9.4"/><circle cx="1584.3" cy="1237.8" r="9.4"/><circle cx="1523.9" cy="1246.9" r="9.4"/><circle cx="1549.9" cy="1250.9" r="9.4"/><circle cx="1576.9" cy="1248.9" r="9.4"/><circle cx="1532.9" cy="1247.3" r="9.4"/><circle cx="1566.9" cy="1248.9" r="9.4"/><circle cx="1556.9" cy="1260.9" r="9.4"/><circle cx="1571.9" cy="1264.9" r="9.4"/><circle cx="1541.9" cy="1261.9" r="9.4"/><circle cx="1538.9" cy="1276.9" r="9.4"/><circle cx="1543.5" cy="1287.5" r="9.4"/><circle cx="1527.9" cy="1274.9" r="9.4"/><circle cx="1518.9" cy="1280.9" r="9.4"/><circle cx="1552.9" cy="1280.9" r="9.4"/><circle cx="1580.9" cy="1277.9" r="9.4"/><circle cx="1576.9" cy="1293.9" r="9.4"/><circle cx="1566.9" cy="1285.9" r="9.4"/><circle cx="1532.9" cy="1293.9" r="9.4"/><circle cx="1558.9" cy="1291.9" r="9.4"/><circle cx="1523.9" cy="1284.5" r="9.4"/><circle cx="1562.9" cy="1276.5" r="9.4"/><circle cx="1544.9" cy="1307.9" r="9.4"/><circle cx="1558.9" cy="1322.9" r="9.4"/><circle cx="1554.3" cy="1315.9" r="9.4"/><circle cx="1549.9" cy="1301.9" r="9.4"/><circle cx="1541.9" cy="1327.9" r="9.4"/><circle cx="1549.9" cy="1357.9" r="9.4"/>
</g>
<g class="w">
<circle cx="1681.2" cy="1099.5" r="9.4"/><circle cx="1681.2" cy="1222.9" r="9.4"/><circle cx="1661.8" cy="1228.9" r="9.4"/><circle cx="1701.8" cy="1231.5" r="9.4"/><circle cx="1711.4" cy="1229.9" r="9.4"/><circle cx="1691.8" cy="1243.9" r="9.4"/><circle cx="1681.2" cy="1237.9" r="9.4"/><circle cx="1651.8" cy="1243.3" r="9.4"/><circle cx="1701.8" cy="1250.9" r="9.4"/><circle cx="1661.8" cy="1258.9" r="9.4"/><circle cx="1691.8" cy="1260.9" r="9.4"/><circle cx="1671.4" cy="1250.9" r="9.4"/><circle cx="1681.2" cy="1263.9" r="9.4"/><circle cx="1666.8" cy="1275.9" r="9.4"/><circle cx="1686.8" cy="1278.9" r="9.4"/><circle cx="1696.8" cy="1277.9" r="9.4"/><circle cx="1656.8" cy="1285.9" r="9.4"/><circle cx="1676.8" cy="1285.9" r="9.4"/><circle cx="1646.8" cy="1288.9" r="9.4"/><circle cx="1715.8" cy="1292.9" r="9.4"/><circle cx="1695.8" cy="1292.9" r="9.4"/><circle cx="1705.8" cy="1296.5" r="9.4"/><circle cx="1666.8" cy="1297.9" r="9.4"/><circle cx="1686.2" cy="1303.9" r="9.4"/><circle cx="1676.8" cy="1320.9" r="9.4"/>
</g>
<text class="tick" x="1314.1" y="917">1.0</text>
<text class="tick" x="1314.1" y="1007.3">0.8</text>
<text class="tick" x="1314.1" y="1097.9">0.6</text>
<text class="tick" x="1314.1" y="1188.6">0.4</text>
<text class="tick" x="1314.1" y="1279.2">0.2</text>
<text class="tick" x="1314.1" y="1369.9">0.0</text>
<text class="grp" x="1418.6" y="1398.2">GG</text>
<text class="grp" x="1549.6" y="1398.2">GT</text>
<text class="grp" x="1681.3" y="1398.2">TT</text>
</g>
</svg></body></html>
